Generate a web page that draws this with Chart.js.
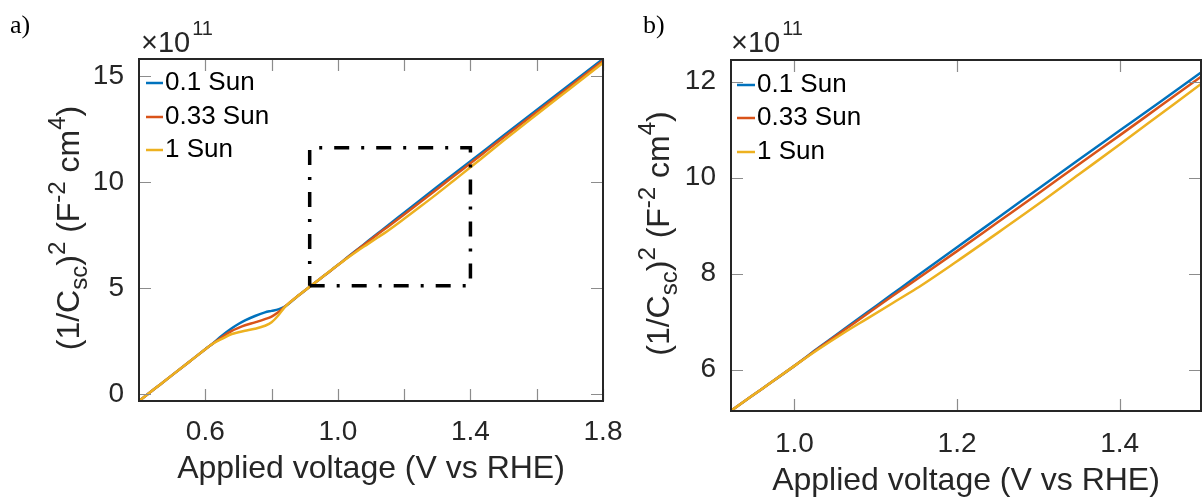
<!DOCTYPE html>
<html>
<head>
<meta charset="UTF-8">
<title>Mott-Schottky plots</title>
<style>
  body { margin: 0; background: #fff; }
  .wrap { position: relative; width: 1203px; height: 497px; overflow: hidden; background: #fff; }
  canvas { position: absolute; top: 0; }
  #chartA { left: 0; }
  #chartB { left: 620px; }
</style>
</head>
<body>
<div class="wrap">
  <canvas id="chartA" width="640" height="497"></canvas>
  <canvas id="chartB" width="583" height="497"></canvas>
</div>
<script src="https://cdn.jsdelivr.net/npm/chart.js"></script>
<script>
// Dữ liệu (đơn vị trục y: x10^11 F^-2 cm^4)
const voltage = [0.40, 0.45, 0.50, 0.55, 0.60, 0.62, 0.65, 0.68, 0.70, 0.72, 0.75, 0.78, 0.80, 0.82, 0.84,
  0.88, 0.92, 0.96, 1.00, 1.03, 1.06, 1.09, 1.12, 1.15, 1.20, 1.25, 1.30, 1.35, 1.40, 1.45, 1.50, 1.60, 1.70, 1.80];
const sun01 = [-0.33, 0.28, 0.89, 1.50, 2.11, 2.35, 2.75, 3.10, 3.30, 3.47, 3.68, 3.85, 3.92, 3.99, 4.12,
  4.63, 5.12, 5.60, 6.08, 6.46, 6.83, 7.20, 7.57, 7.94, 8.55, 9.16, 9.77, 10.38, 10.98, 11.58, 12.19, 13.40, 14.60, 15.80];
const sun033 = [-0.33, 0.28, 0.89, 1.50, 2.11, 2.35, 2.68, 2.98, 3.12, 3.24, 3.38, 3.53, 3.65, 3.85, 4.12,
  4.63, 5.12, 5.60, 6.08, 6.45, 6.81, 7.17, 7.53, 7.88, 8.47, 9.07, 9.67, 10.28, 10.88, 11.49, 12.10, 13.30, 14.50, 15.72];
const sun1 = [-0.33, 0.28, 0.89, 1.50, 2.11, 2.35, 2.60, 2.83, 2.91, 2.98, 3.08, 3.22, 3.38, 3.70, 4.10,
  4.63, 5.12, 5.60, 6.08, 6.43, 6.76, 7.07, 7.38, 7.69, 8.26, 8.85, 9.45, 10.07, 10.69, 11.32, 11.95, 13.18, 14.40, 15.62];
const seriesNames = ['0.1 Sun', '0.33 Sun', '1 Sun'];
const seriesColors = ['#0072BD', '#D95319', '#EDB120'];

// Khung phóng to trong hình a)
const boxX = [0.915, 1.40, 1.40, 0.915, 0.915];
const boxY = [5.11, 5.11, 11.62, 11.62, 5.11];

// Vạch chia
const xTicksA = [0.6, 0.8, 1.0, 1.2, 1.4, 1.6, 1.8];
const xLabelsA = ['0.6', '1.0', '1.4', '1.8'];
const yTicksA = [0, 5, 10, 15];
const xTicksB = [1.0, 1.2, 1.4];
const xLabelsB = ['1.0', '1.2', '1.4'];
const yTicksB = [6, 8, 10, 12];

const FONT = '"Liberation Sans", Arial, Helvetica, sans-serif';
const INK = '#262626';

const toPoints = (xs, ys) => xs.map((x, i) => ({ x: x, y: ys[i] }));

function drawRich(ctx, parts, x, y) {
  let total = 0;
  parts.forEach(p => { ctx.font = p[1] + 'px ' + FONT; total += ctx.measureText(p[0]).width; });
  let cx = x - total / 2;
  parts.forEach(p => {
    ctx.font = p[1] + 'px ' + FONT;
    ctx.fillText(p[0], cx, y + p[2]);
    cx += ctx.measureText(p[0]).width;
  });
}

const yTitle = [['(1/C', 32, 0], ['sc', 24, 8], [')', 32, 0], ['2', 24, -14], [' (F', 32, 0],
  ['-2', 24, -14], [' cm', 32, 0], ['4', 24, -14], [')', 32, 0]];

// Plugin vẽ khung, vạch chia bên trong, chú thích và tiêu đề trục
function decorPlugin(cfg) {
  return {
    id: 'decor',
    afterDraw(chart) {
      const ctx = chart.ctx;
      const a = chart.chartArea;
      const xs = chart.scales.x, ys = chart.scales.y;
      ctx.save();
      // vạch chia hướng vào trong
      ctx.strokeStyle = '#8c8c8c';
      ctx.lineWidth = 1.2;
      ctx.beginPath();
      cfg.xTicks.forEach(v => {
        const px = Math.round(xs.getPixelForValue(v)) + 0.5;
        ctx.moveTo(px, a.bottom); ctx.lineTo(px, a.bottom - 12);
        ctx.moveTo(px, a.top); ctx.lineTo(px, a.top + 12);
      });
      cfg.yTicks.forEach(v => {
        const py = Math.round(ys.getPixelForValue(v)) + 0.5;
        ctx.moveTo(a.left, py); ctx.lineTo(a.left + 12, py);
        ctx.moveTo(a.right, py); ctx.lineTo(a.right - 12, py);
      });
      ctx.stroke();
      // khung
      ctx.strokeStyle = INK;
      ctx.lineWidth = 2;
      ctx.strokeRect(a.left, a.top, a.right - a.left, a.bottom - a.top);

      // chú thích
      ctx.textBaseline = 'middle';
      ctx.textAlign = 'left';
      ctx.font = '26px ' + FONT;
      seriesNames.forEach((name, i) => {
        const y = cfg.legendY[i];
        ctx.strokeStyle = seriesColors[i];
        ctx.lineWidth = 2.5;
        ctx.beginPath();
        ctx.moveTo(a.left + cfg.legendLine[0], y);
        ctx.lineTo(a.left + cfg.legendLine[1], y);
        ctx.stroke();
        ctx.fillStyle = '#000';
        ctx.fillText(name, a.left + cfg.legendText, y);
      });

      // hệ số x10^11
      ctx.textBaseline = 'alphabetic';
      ctx.fillStyle = INK;
      ctx.font = '29px ' + FONT;
      ctx.fillText('\u00d710', cfg.expX, 52);
      const w = ctx.measureText('\u00d710').width;
      ctx.font = '20px ' + FONT;
      ctx.fillText('11', cfg.expX + w + 2, 35);

      // tiêu đề trục x
      drawRich(ctx, [['Applied voltage (V vs RHE)', 32, 0]], (a.left + a.right) / 2, cfg.xTitleY);

      // tiêu đề trục y
      ctx.save();
      ctx.translate(cfg.yTitleX, (a.top + a.bottom) / 2 - 2);
      ctx.rotate(-Math.PI / 2);
      drawRich(ctx, yTitle, 0, 0);
      ctx.restore();

      // nhãn a) / b)
      ctx.fillStyle = '#000';
      ctx.font = '26px "Liberation Serif", "Times New Roman", serif';
      ctx.fillText(cfg.panel, cfg.panelX, 33);
      ctx.restore();
    }
  };
}

function buildChart(id, cfg) {
  const datasets = [
    { data: toPoints(boxX, boxY), borderColor: '#000', borderWidth: 3.5, borderDash: [15, 12, 3, 12], order: 0, hidden: !cfg.showBox },
    { label: seriesNames[0], data: toPoints(voltage, sun01), borderColor: seriesColors[0], order: 3 },
    { label: seriesNames[1], data: toPoints(voltage, sun033), borderColor: seriesColors[1], order: 2 },
    { label: seriesNames[2], data: toPoints(voltage, sun1), borderColor: seriesColors[2], order: 1 }
  ];
  datasets.forEach((d, i) => {
    d.showLine = true;
    d.pointRadius = 0;
    d.fill = false;
    if (i > 0) {
      d.borderWidth = 2.5;
      d.cubicInterpolationMode = 'monotone';
    }
  });

  return new Chart(document.getElementById(id).getContext('2d'), {
    type: 'scatter',
    data: { datasets: datasets },
    plugins: [decorPlugin(cfg)],
    options: {
      responsive: false,
      animation: false,
      devicePixelRatio: 1,
      layout: { padding: cfg.padding },
      plugins: { legend: { display: false }, tooltip: { enabled: false } },
      scales: {
        x: {
          type: 'linear',
          min: cfg.xMin, max: cfg.xMax,
          grid: { display: false },
          border: { display: false },
          afterBuildTicks: s => { s.ticks = cfg.xTicks.map(v => ({ value: v })); },
          afterFit: s => { s.height = cfg.xAxisH; s.paddingLeft = 0; s.paddingRight = 0; },
          ticks: {
            autoSkip: false, maxRotation: 0, padding: cfg.xPad,
            color: INK, font: { family: FONT, size: 28 },
            callback: v => cfg.xLabels.includes(v.toFixed(1)) ? v.toFixed(1) : ''
          }
        },
        y: {
          min: cfg.yMin, max: cfg.yMax,
          grid: { display: false },
          border: { display: false },
          afterBuildTicks: s => { s.ticks = cfg.yTicks.map(v => ({ value: v })); },
          afterFit: s => { s.width = cfg.yAxisW; s.paddingTop = 0; s.paddingBottom = 0; },
          ticks: {
            autoSkip: false, padding: 7,
            color: INK, font: { family: FONT, size: 28 },
            callback: v => String(v)
          }
        }
      }
    }
  });
}

buildChart('chartA', {
  panel: 'a)', panelX: 10, showBox: true,
  xMin: 0.4, xMax: 1.8, yMin: -0.33, yMax: 15.8,
  xTicks: xTicksA, xLabels: xLabelsA, yTicks: yTicksA,
  padding: { left: 0, right: 37, top: 59, bottom: 0 },
  yAxisW: 139, xAxisH: 96, xPad: 6,
  legendY: [83, 117, 150], legendLine: [7, 24], legendText: 26,
  expX: 141, xTitleY: 478, yTitleX: 79
});

buildChart('chartB', {
  panel: 'b)', panelX: 23, showBox: false,
  xMin: 0.922, xMax: 1.5, yMin: 5.14, yMax: 12.45,
  xTicks: xTicksB, xLabels: xLabelsB, yTicks: yTicksB,
  padding: { left: 0, right: 2, top: 60, bottom: 0 },
  yAxisW: 111, xAxisH: 86, xPad: 8,
  legendY: [85, 118, 152], legendLine: [6, 24], legendText: 26,
  expX: 111, xTitleY: 490, yTitleX: 49
});
</script>
</body>
</html>
